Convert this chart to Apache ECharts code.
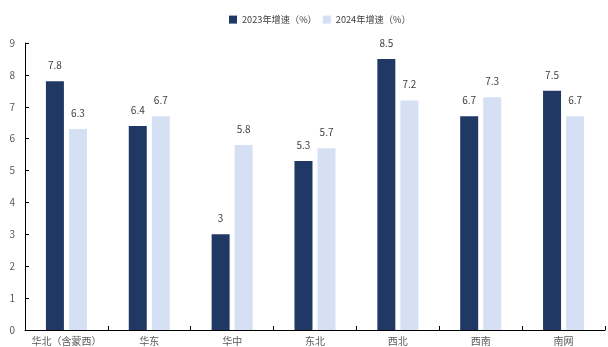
<!DOCTYPE html>
<html>
<head>
<meta charset="utf-8">
<script src="https://cdn.jsdelivr.net/npm/echarts@6/dist/echarts.min.js"></script>
<style>
  html, body { margin: 0; padding: 0; background: #fff; }
  #chart { width: 608px; height: 347px; }
</style>
</head>
<body>
<div id="chart"></div>
<script>
// Regional growth rates, 2023 vs 2024 (%)
const regions = ['华北（含蒙西）', '华东', '华中', '东北', '西北', '西南', '南网'];
const growth2023 = [7.8, 6.4, 3, 5.3, 8.5, 6.7, 7.5];
const growth2024 = [6.3, 6.7, 5.8, 5.7, 7.2, 7.3, 6.7];
const seriesNames = ['2023年增速（%）', '2024年增速（%）'];
const yTicks = { min: 0, max: 9, interval: 1 };

const font = '"Noto Sans CJK SC", "Noto Sans", sans-serif';
const chart = echarts.init(document.getElementById('chart'), null, { renderer: 'canvas' });

const labelStyle = {
  show: true,
  position: 'top',
  distance: 11,
  color: '#404040',
  fontSize: 10,
  fontFamily: font
};

chart.setOption({
  animation: false,
  legend: {
    top: 10,
    left: 224,
    itemWidth: 8,
    itemHeight: 8,
    itemGap: 6,
    icon: 'rect',
    textStyle: { color: '#404040', fontSize: 9.2, fontFamily: font },
    data: seriesNames
  },
  grid: { left: 25, right: 3, top: 43, bottom: 17, containLabel: false },
  xAxis: {
    type: 'category',
    data: regions,
    axisLine: { lineStyle: { color: '#000', width: 1 } },
    axisTick: { show: true, inside: true, length: 4, alignWithLabel: false, lineStyle: { color: '#000' } },
    axisLabel: { color: '#595959', fontSize: 10, fontFamily: font, margin: 6, interval: 0 }
  },
  yAxis: {
    type: 'value',
    min: yTicks.min,
    max: yTicks.max,
    interval: yTicks.interval,
    axisLine: { show: true, lineStyle: { color: '#000', width: 1 } },
    axisTick: { show: true, inside: true, length: 4, lineStyle: { color: '#000' } },
    splitLine: { show: false },
    axisLabel: { color: '#595959', fontSize: 10, fontFamily: font, margin: 10 }
  },
  series: [
    {
      name: seriesNames[0],
      type: 'bar',
      data: growth2023,
      barWidth: 18,
      barGap: '28%',
      itemStyle: { color: '#1f3864' },
      label: labelStyle
    },
    {
      name: seriesNames[1],
      type: 'bar',
      data: growth2024,
      barWidth: 18,
      itemStyle: { color: '#d6e0f4' },
      label: labelStyle
    }
  ]
});
</script>
</body>
</html>
